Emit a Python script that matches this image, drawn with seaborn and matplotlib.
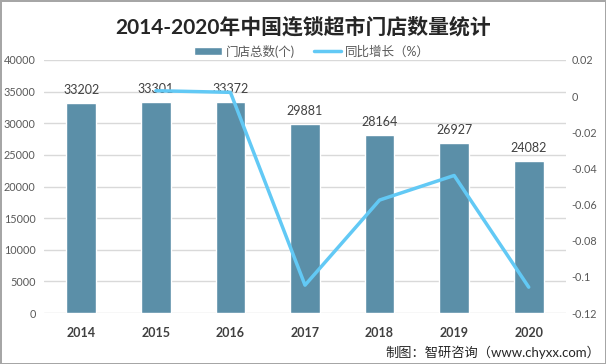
import matplotlib
matplotlib.use("Agg")
import matplotlib.pyplot as plt
from matplotlib.ticker import MultipleLocator, FuncFormatter
from matplotlib.patches import Patch
from matplotlib.lines import Line2D
import seaborn as sns
import pandas as pd

years = ['2014', '2015', '2016', '2017', '2018', '2019', '2020']
stores = [33202, 33301, 33372, 29881, 28164, 26927, 24082]
growth_years = ['2015', '2016', '2017', '2018', '2019', '2020']
growth = [0.0030, 0.0021, -0.1046, -0.0575, -0.0439, -0.1057]

bar_color = '#5B8FA8'
line_color = '#62C9F5'

sns.set_style('white')
plt.rcParams['font.family'] = ['Lato', 'Noto Sans CJK SC', 'DejaVu Sans']

bars = pd.DataFrame({'year': years, 'stores': stores})
# line positions follow the category order of the bars
line = pd.DataFrame({'pos': [years.index(y) for y in growth_years], 'growth': growth})

fig = plt.figure(figsize=(6.06, 3.64), dpi=100, edgecolor='#a6a6a6', linewidth=2)
ax = fig.add_axes([44 / 606, 1 - 313 / 364, (566 - 44) / 606, (313 - 60) / 364])

sns.barplot(data=bars, x='year', y='stores', color=bar_color, width=0.4,
            saturation=1, ax=ax)
ax.bar_label(ax.containers[0], fontsize=9, color='#404040', padding=5)

ax.set_ylim(0, 40000)
ax.yaxis.set_major_locator(MultipleLocator(5000))
ax.grid(axis='y', color='#d9d9d9', linewidth=1)
ax.set_axisbelow(True)
ax.set_xlabel('')
ax.set_ylabel('')
for s in ax.spines.values():
    s.set_visible(False)
ax.tick_params(axis='y', length=0, labelsize=7.8, labelcolor='#595959', pad=6)
ax.tick_params(axis='x', length=0, labelsize=9, labelcolor='#404040', pad=10)
for t in ax.get_xticklabels():
    t.set_fontweight('bold')

ax2 = ax.twinx()
sns.lineplot(data=line, x='pos', y='growth', color=line_color, linewidth=2.5, ax=ax2)
ax2.set_ylim(-0.12, 0.02)
ax2.yaxis.set_major_locator(MultipleLocator(0.02))
ax2.yaxis.set_major_formatter(FuncFormatter(lambda v, p: '{:g}'.format(round(v, 4)) if abs(v) > 1e-9 else '0'))
ax2.set_xlabel('')
ax2.set_ylabel('')
for s in ax2.spines.values():
    s.set_visible(False)
ax2.tick_params(axis='y', length=0, labelsize=7.8, labelcolor='#595959', pad=4)
ax.set_xlim(-0.5, len(years) - 0.5)

fig.text(0.5, 1 - 27 / 364, '2014-2020年中国连锁超市门店数量统计', ha='center', va='center',
         fontsize=15, fontweight='bold', color='#262626')

handles = [Patch(facecolor=bar_color), Line2D([0], [0], color=line_color, linewidth=2.5)]
fig.legend(handles, ['门店总数(个)', '同比增长（%）'], loc='center', ncol=2,
           bbox_to_anchor=(0.515, 1 - 51 / 364), frameon=False, fontsize=9,
           labelcolor='#595959', handlelength=2.2, handleheight=0.6,
           columnspacing=1.5, handletextpad=0.3)

fig.text(0.99, 1 - 352 / 364, '制图：智研咨询（www.chyxx.com）', ha='right', va='center',
         fontsize=9.5, color='#262626')

fig.savefig('out.png', dpi=100)
